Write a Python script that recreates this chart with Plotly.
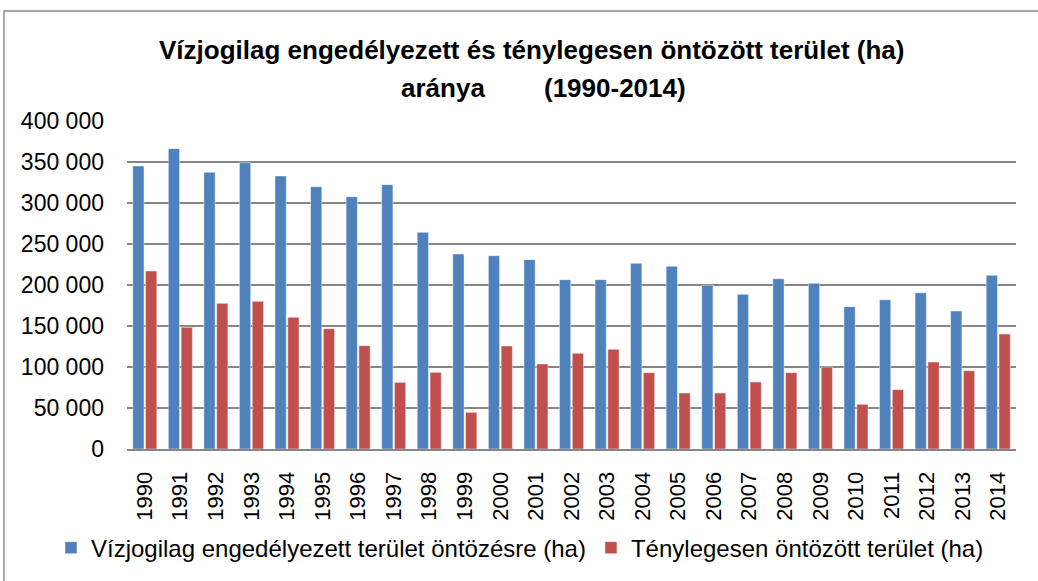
import plotly.graph_objects as go

years = [str(y) for y in range(1990, 2015)]

engedelyezett = [345100, 366300, 337400, 349200, 332900, 319900, 307700, 322400,
                 264200, 237800, 235800, 230900, 206500, 206500, 226400, 222800,
                 199600, 188600, 207700, 202000, 173600, 182100, 190600, 168300,
                 211800]

ontozott = [217100, 148400, 177600, 180100, 160600, 146700, 126000, 81300,
            93500, 44700, 125600, 103700, 116700, 121500, 93100, 68300,
            68300, 81700, 93100, 100000, 54500, 72400, 106100, 95500,
            140200]

series_names = ["Vízjogilag engedélyezett terület öntözésre (ha)",
                "Ténylegesen öntözött terület (ha)"]

title_line1 = "Vízjogilag engedélyezett és ténylegesen öntözött terület (ha)"
title_line2a = "aránya"
title_line2b = "(1990-2014)"

BLUE = "#4F81BD"
RED = "#C0504D"
GRID = "#868686"
FONT = "Liberation Sans, Arial, sans-serif"

fig = go.Figure()
fig.add_trace(go.Bar(
    x=years, y=engedelyezett, name=series_names[0],
    marker=dict(color=BLUE, line=dict(color="rgba(255,255,255,0.45)", width=1)),
))
fig.add_trace(go.Bar(
    x=years, y=ontozott, name=series_names[1],
    marker=dict(color=RED, line=dict(color="rgba(255,255,255,0.45)", width=1)),
))

# outer chart border (Excel chart frame)
fig.add_shape(type="rect", xref="paper", yref="paper",
              x0=-0.1384, x1=1.04, y0=-0.5, y1=1.3354,
              line=dict(color="#8C8C8C", width=1.5), fillcolor="rgba(0,0,0,0)",
              layer="below")

# title, placed line by line like the Excel chart title
title_font = dict(family=FONT, size=26, color="black", weight="bold")
fig.add_annotation(text=title_line1, xref="paper", yref="paper", x=0.455, y=1.2165,
                   xanchor="center", yanchor="middle", showarrow=False, font=title_font)
fig.add_annotation(text=title_line2a, xref="paper", yref="paper", x=0.3555, y=1.1006,
                   xanchor="center", yanchor="middle", showarrow=False, font=title_font)
fig.add_annotation(text=title_line2b, xref="paper", yref="paper", x=0.549, y=1.1006,
                   xanchor="center", yanchor="middle", showarrow=False, font=title_font)

fig.update_layout(
    width=1038, height=581,
    paper_bgcolor="white", plot_bgcolor="white",
    margin=dict(l=127, r=22, t=121, b=132, autoexpand=False),
    font=dict(family=FONT, color="black", size=20),
    separators=", ",
    barmode="group", bargap=0.28, bargroupgap=0.12,
    xaxis=dict(
        tickangle=-90, tickfont=dict(size=22),
        showline=True, linecolor=GRID, linewidth=2, showgrid=False,
        ticks="", ticklabelstandoff=12,
    ),
    yaxis=dict(
        range=[0, 400000], dtick=50000, tickformat=",d",
        tickfont=dict(size=23), showgrid=True, gridcolor=GRID, gridwidth=1.5,
        zeroline=False, showline=False, ticks="", ticklabelstandoff=22,
    ),
    legend=dict(orientation="h", x=-0.0855, xanchor="left", y=-0.302, yanchor="middle",
                font=dict(size=24), itemwidth=30, tracegroupgap=0,
                bgcolor="rgba(0,0,0,0)"),
    showlegend=True,
)

fig.write_html("out.html", config={"displayModeBar": False},
               post_script="document.body.style.margin='0';")
